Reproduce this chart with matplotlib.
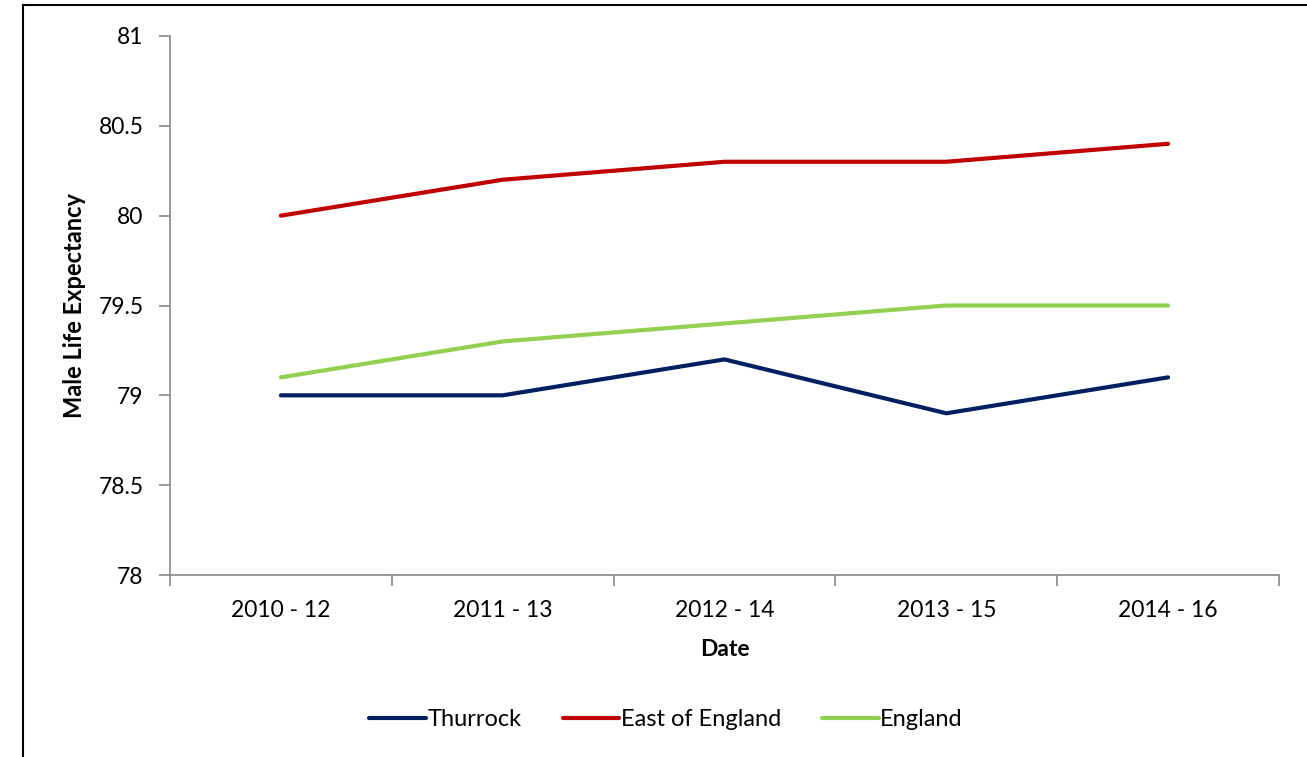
import matplotlib
matplotlib.use("Agg")
import matplotlib.pyplot as plt
from matplotlib.lines import Line2D
from matplotlib.ticker import FuncFormatter, MultipleLocator

# DADOS
periodos = ["2010 - 12", "2011 - 13", "2012 - 14", "2013 - 15", "2014 - 16"]
thurrock = [79.0, 79.0, 79.2, 78.9, 79.1]
east_of_england = [80.0, 80.2, 80.3, 80.3, 80.4]
england = [79.1, 79.3, 79.4, 79.5, 79.5]

plt.rcParams['font.family'] = ['Lato', 'DejaVu Sans']

W, H = 1307, 757
fig = plt.figure(figsize=(W / 100, H / 100), dpi=100)
ax = fig.add_axes([170 / W, 1 - 575 / H, (1279 - 170) / W, (575 - 36) / H])

x = list(range(len(periodos)))
ax.plot(x, thurrock, color="#002060", lw=3, label="Thurrock", solid_capstyle="round")
ax.plot(x, east_of_england, color="#C00000", lw=3, label="East of England", solid_capstyle="round")
ax.plot(x, england, color="#92D050", lw=3, label="England", solid_capstyle="round")

# EIXOS
ax.set_xlim(-0.5, len(periodos) - 0.5)
ax.set_ylim(78, 81)
ax.yaxis.set_major_locator(MultipleLocator(0.5))
ax.yaxis.set_major_formatter(FuncFormatter(lambda v, p: f"{v:g}"))
ax.set_xticks(x)
ax.set_xticklabels(periodos)
ax.set_xticks([i - 0.5 for i in range(len(periodos) + 1)], minor=True)
ax.tick_params(axis="x", which="major", length=0, pad=18, labelsize=16.5)
ax.tick_params(axis="x", which="minor", length=8, color="#888888", width=1.2)
ax.tick_params(axis="y", length=8, color="#888888", width=1.2, pad=11, labelsize=16.5)

for s in ["top", "right"]:
    ax.spines[s].set_visible(False)
for s in ["left", "bottom"]:
    ax.spines[s].set_color("#888888")
    ax.spines[s].set_linewidth(1.2)

ax.set_xlabel("Date", fontsize=16.5, fontweight="bold", labelpad=13)
fig.text(75 / W, 1 - 305 / H, "Male Life Expectancy", rotation=90, fontsize=17,
         fontweight="bold", ha="center", va="center")

# LEGENDA
fig.legend(loc="center", bbox_to_anchor=(666 / W, 1 - 720 / H), ncol=3, frameon=False,
           fontsize=17, handlelength=2.4, handletextpad=0.05, columnspacing=1.75)

# MOLDURA
fig.add_artist(Line2D([23 / W, 23 / W], [0, 1 - 5 / H], color="black", lw=1.5,
                      transform=fig.transFigure))
fig.add_artist(Line2D([23 / W, 1], [1 - 5 / H, 1 - 5 / H], color="black", lw=1.5,
                      transform=fig.transFigure))

fig.savefig("out.png", dpi=100)
